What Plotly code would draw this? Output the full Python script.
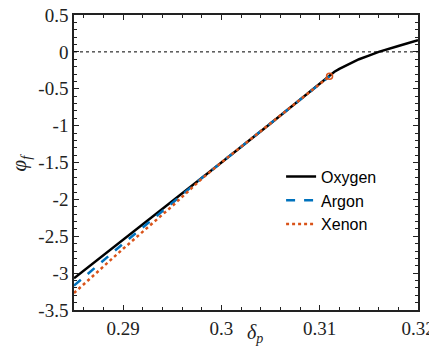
import plotly.graph_objects as go

# Data
delta_oxygen = [0.285, 0.29, 0.295, 0.30, 0.305, 0.311, 0.3115, 0.312, 0.313, 0.314, 0.315, 0.316, 0.318, 0.32]
phi_oxygen = [-3.07, -2.55, -2.03, -1.50, -0.97, -0.33, -0.27, -0.23, -0.16, -0.10, -0.05, 0.00, 0.08, 0.16]

delta_argon = [0.285, 0.29, 0.295, 0.298, 0.30, 0.305, 0.311]
phi_argon = [-3.17, -2.60, -2.05, -1.71, -1.50, -0.97, -0.33]

delta_xenon = [0.285, 0.29, 0.295, 0.298, 0.30, 0.305, 0.311]
phi_xenon = [-3.27, -2.67, -2.09, -1.72, -1.50, -0.97, -0.33]

x_ticks = [0.29, 0.30, 0.31, 0.32]
x_ticklabels = ["0.29", "0.3", "0.31", "0.32"]
y_ticks = [0.5, 0, -0.5, -1, -1.5, -2, -2.5, -3, -3.5]
y_ticklabels = ["0.5", "0", "-0.5", "-1", "-1.5", "-2", "-2.5", "-3", "-3.5"]

fig = go.Figure()
fig.add_hline(y=0, line=dict(color="black", width=1, dash="dot"))

fig.add_trace(go.Scatter(x=delta_oxygen, y=phi_oxygen, mode="lines", name="Oxygen",
                         line=dict(color="black", width=2.5)))
fig.add_trace(go.Scatter(x=delta_argon, y=phi_argon, mode="lines", name="Argon",
                         line=dict(color="#0072BD", width=2.5, dash="dash")))
fig.add_trace(go.Scatter(x=delta_xenon, y=phi_xenon, mode="lines", name="Xenon",
                         line=dict(color="#D95319", width=2.5, dash="dot")))
fig.add_trace(go.Scatter(x=[delta_xenon[-1]], y=[phi_xenon[-1]], mode="markers", showlegend=False,
                         marker=dict(symbol="circle-open", color="#D95319", size=6, line=dict(width=1.5))))

axis_common = dict(showline=True, linecolor="#222", linewidth=1.5, mirror="ticks",
                   ticks="inside", ticklen=5, tickcolor="#222", showgrid=False, zeroline=False,
                   automargin=False, ticklabeloverflow="allow",
                   tickfont=dict(family="Liberation Serif", size=19, color="#222"))

fig.update_xaxes(range=[0.285, 0.32], tickvals=x_ticks, ticktext=x_ticklabels,
                 minor=dict(ticks="inside", ticklen=3, dtick=0.002, tick0=0.29, tickcolor="#222"),
                 **axis_common)
fig.update_yaxes(range=[-3.5, 0.5], tickvals=y_ticks, ticktext=y_ticklabels,
                 minor=dict(ticks="inside", ticklen=3, dtick=0.1, tickcolor="#222"),
                 **axis_common)

# axis titles
fig.add_annotation(text="<i>δ<sub>p</sub></i>", xref="paper", yref="paper", x=0.526, y=0,
                   xanchor="center", yanchor="top", yshift=-9, showarrow=False,
                   font=dict(family="Liberation Serif", size=20, color="#222"))
fig.add_annotation(text="<i>φ<sub>f</sub></i>", xref="paper", yref="paper", x=-0.157, y=0.50,
                   xanchor="center", yanchor="middle", textangle=-90, showarrow=False,
                   font=dict(family="Liberation Serif", size=21, color="#222"))

# page body has an 8px margin: figure is drawn at (8, 8)
fig.update_layout(
    width=429, height=339,
    margin=dict(l=66, r=19, t=7, b=37),
    plot_bgcolor="white", paper_bgcolor="white",
    legend=dict(x=0.602, y=0.51, xanchor="left", yanchor="top", bgcolor="rgba(0,0,0,0)",
                font=dict(family="Liberation Sans", size=16, color="black"),
                tracegroupgap=0),
)

fig.write_html("out.html")
